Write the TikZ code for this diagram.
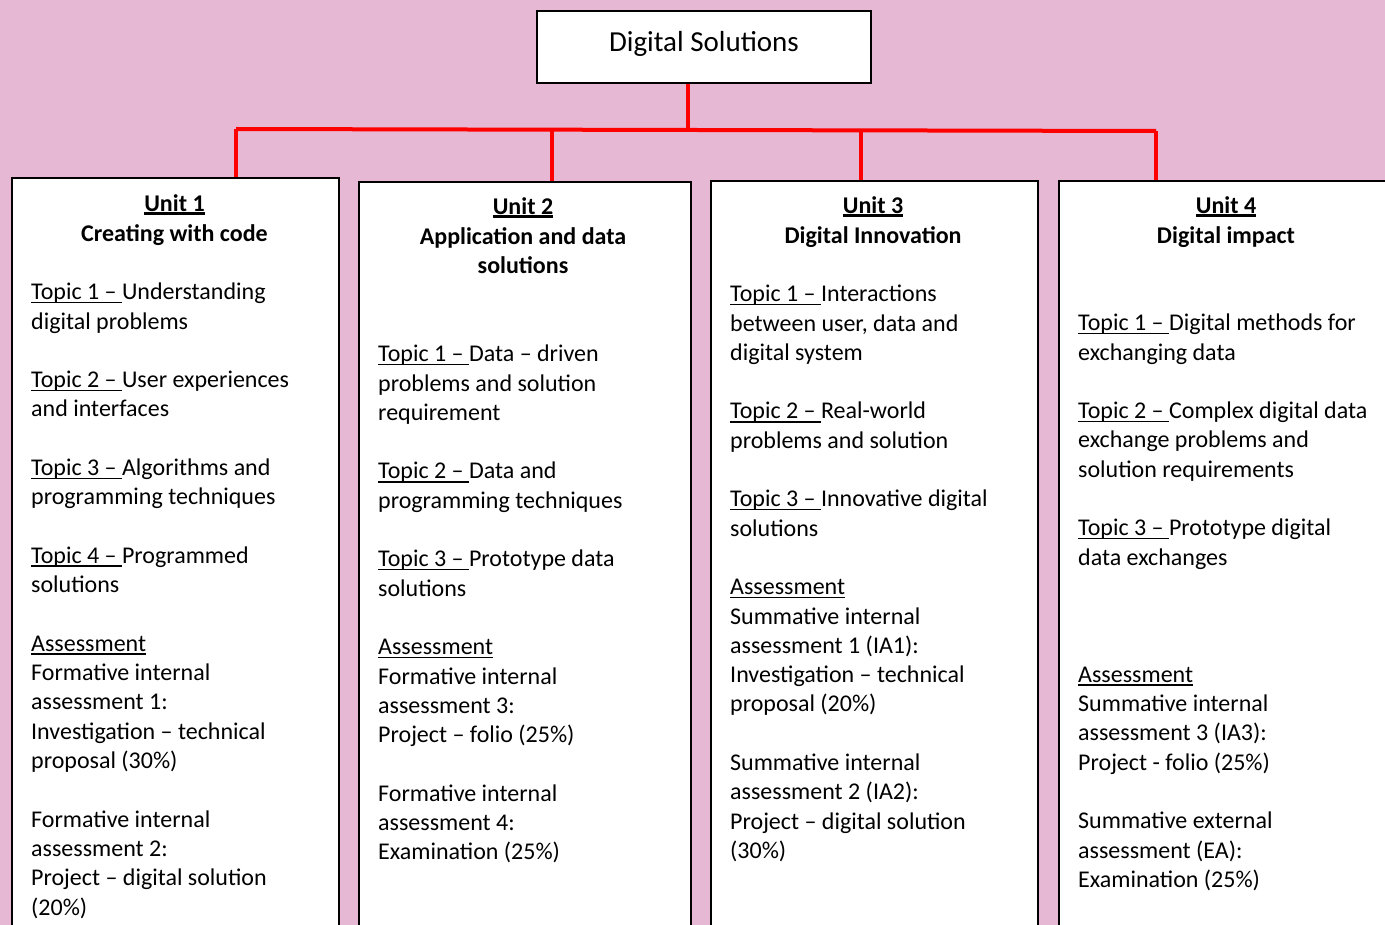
\documentclass[tikz,border=0pt]{standalone}
\usepackage{fontspec}
\setmainfont{Carlito}
\definecolor{bgpink}{HTML}{E6B8D3}
\newsavebox\myulbox
\newcommand\ulN[1]{\sbox\myulbox{#1}\rlap{\rule[-3.6pt]{\wd\myulbox}{1.6pt}}\usebox\myulbox}
\newcommand\ulB[1]{\sbox\myulbox{#1}\rlap{\rule[-3.2pt]{\wd\myulbox}{2.4pt}}\usebox\myulbox}
\newcommand\fl{\rule{0pt}{20pt}}
\tikzset{
  unitbox/.style={draw=black, line width=2pt, fill=white, anchor=north west, minimum height=800pt, inner sep=0pt},
  titlebox/.style={draw=black, line width=2pt, fill=white, minimum width=334pt, minimum height=72pt, inner sep=0pt},
  hdr/.style={anchor=north, inner sep=0pt, align=center, font=\fontsize{24}{29.5}\selectfont\bfseries},
  body/.style={anchor=north west, inner sep=0pt, align=left, font=\fontsize{24}{29.3}\selectfont},
  bus/.style={draw=red, line width=4pt}
}
\begin{document}
\begin{tikzpicture}[x=1pt,y=-1pt]
\fill[bgpink] (0,0) rectangle (1385,925);
\useasboundingbox (0,0) rectangle (1385,925);
\begin{scope}
\clip (0,0) rectangle (1385,925);
% title
\node[titlebox] (top) at (704,47) {};
\node[anchor=base, inner sep=0pt, font=\fontsize{29}{35}\selectfont] (toptext) at (704,51.5) {Digital Solutions};
% unit boxes
\node[unitbox, minimum width=327pt] (u1) at (11,177) {};
\node[unitbox, minimum width=332pt] (u2) at (358,181) {};
\node[unitbox, minimum width=327pt] (u3) at (710,180) {};
\node[unitbox, minimum width=340pt] (u4) at (1058,180) {};
% connectors
\coordinate (b0) at (688,130);
\coordinate (b1) at (236,129);
\coordinate (b2) at (552,129.7);
\coordinate (b3) at (861,130.3);
\coordinate (b4) at (1156,131);
\draw[bus] ([xshift=-16pt]top.south) -- (b0);
\draw[bus] (b1) -- (b4);
\draw[bus] (b1) -- (b1 |- u1.north);
\draw[bus] (b2) -- (b2 |- u2.north);
\draw[bus] (b3) -- (b3 |- u3.north);
\draw[bus] (b4) -- (b4 |- u4.north);
% headers
\node[hdr] (h1) at (174.5,191.5) {\fl\ulB{Unit 1}\\Creating with code};
\node[hdr] (h2) at (523,194.5) {\fl\ulB{Unit 2}\\Application and data\\solutions};
\node[hdr] (h3) at (873,193.5) {\fl\ulB{Unit 3}\\Digital Innovation};
\node[hdr] (h4) at (1226,193.5) {\fl\ulB{Unit 4}\\Digital impact};
% bodies
\node[body] (t1) at (31,279.5) {\fl\ulN{Topic 1 – }Understanding\\
digital problems\\[29.3pt]
\ulN{Topic 2 – }User experiences\\
and interfaces\\[29.3pt]
\ulN{Topic 3 – }Algorithms and\\
programming techniques\\[29.3pt]
\ulN{Topic 4 – }Programmed\\
solutions\\[29.3pt]
\ulN{Assessment}\\
Formative internal\\
assessment 1:\\
Investigation – technical\\
proposal (30\%)\\[29.3pt]
Formative internal\\
assessment 2:\\
Project – digital solution\\
(20\%)};
\node[body] (t2) at (378,341.5) {\fl\ulN{Topic 1 – }Data – driven\\
problems and solution\\
requirement\\[29.3pt]
\ulN{Topic 2 – }Data and\\
programming techniques\\[29.3pt]
\ulN{Topic 3 – }Prototype data\\
solutions\\[29.3pt]
\ulN{Assessment}\\
Formative internal\\
assessment 3:\\
Project – folio (25\%)\\[29.3pt]
Formative internal\\
assessment 4:\\
Examination (25\%)};
\node[body] (t3) at (730,281.5) {\fl\ulN{Topic 1 – }Interactions\\
between user, data and\\
digital system\\[29.3pt]
\ulN{Topic 2 – }Real-world\\
problems and solution\\[29.3pt]
\ulN{Topic 3 – }Innovative digital\\
solutions\\[29.3pt]
\ulN{Assessment}\\
Summative internal\\
assessment 1 (IA1):\\
Investigation – technical\\
proposal (20\%)\\[29.3pt]
Summative internal\\
assessment 2 (IA2):\\
Project – digital solution\\
(30\%)};
\node[body] (t4) at (1078,310.5) {\fl\ulN{Topic 1 – }Digital methods for\\
exchanging data\\[29.3pt]
\ulN{Topic 2 – }Complex digital data\\
exchange problems and\\
solution requirements\\[29.3pt]
\ulN{Topic 3 – }Prototype digital\\
data exchanges\\[87.9pt]
\ulN{Assessment}\\
Summative internal\\
assessment 3 (IA3):\\
Project - folio (25\%)\\[29.3pt]
Summative external\\
assessment (EA):\\
Examination (25\%)};
\end{scope}
\end{tikzpicture}
\end{document}
